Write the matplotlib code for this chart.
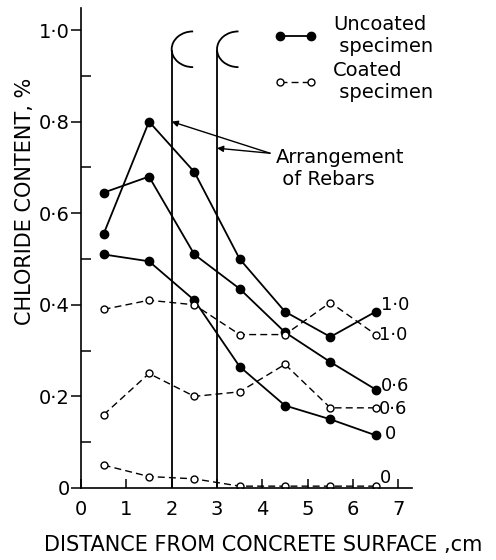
import matplotlib
matplotlib.use('Agg')
import matplotlib.pyplot as plt
from matplotlib.patches import Arc
from matplotlib.ticker import MultipleLocator

plt.rcParams['font.family'] = 'DejaVu Sans'

# distance from concrete surface, cm
depth = [0.5, 1.5, 2.5, 3.5, 4.5, 5.5, 6.5]

# chloride content, % -- uncoated specimens (w/c labels 1.0, 0.6, 0)
uncoated_10 = [0.555, 0.80, 0.69, 0.50, 0.385, 0.33, 0.385]
uncoated_06 = [0.645, 0.68, 0.51, 0.435, 0.34, 0.275, 0.215]
uncoated_00 = [0.51, 0.495, 0.41, 0.265, 0.18, 0.15, 0.115]

# coated specimens
coated_10 = [0.39, 0.41, 0.40, 0.335, 0.335, 0.405, 0.335]
coated_06 = [0.16, 0.25, 0.20, 0.21, 0.27, 0.175, 0.175]
coated_00 = [0.05, 0.025, 0.02, 0.004, 0.004, 0.004, 0.004]

end_labels = ['1·0', '0·6', '0']
rebar_x = [2, 3]

yticks = [0, 0.2, 0.4, 0.6, 0.8, 1.0]
ytick_labels = ['0', '0·2', '0·4', '0·6', '0·8', '1·0']
xticks = [0, 1, 2, 3, 4, 5, 6, 7]

fig = plt.figure(figsize=(4.96, 5.6), dpi=100)
ax = fig.add_axes([0.1633, 0.1286, 0.6673, 0.857])

solid = dict(color='k', lw=1.3, marker='o', ms=6, mfc='k', mec='k')
dashed = dict(color='k', lw=1.0, ls=(0, (5, 3)), marker='o', ms=5,
              mfc='white', mec='k', mew=1.0)

l1, = ax.plot(depth, uncoated_10, **solid)
ax.plot(depth, uncoated_06, **solid)
ax.plot(depth, uncoated_00, **solid)
l2, = ax.plot(depth, coated_10, **dashed)
ax.plot(depth, coated_06, **dashed)
ax.plot(depth, coated_00, **dashed)

# labels at line ends
fs_end = 13
ax.text(6.62, 0.40, end_labels[0], fontsize=fs_end, va='center', ha='left')
ax.text(6.58, 0.335, end_labels[0], fontsize=fs_end, va='center', ha='left')
ax.text(6.62, 0.222, end_labels[1], fontsize=fs_end, va='center', ha='left')
ax.text(6.58, 0.172, end_labels[1], fontsize=fs_end, va='center', ha='left')
ax.text(6.7, 0.117, end_labels[2], fontsize=fs_end, va='center', ha='left')
ax.text(6.6, 0.022, end_labels[2], fontsize=fs_end, va='center', ha='left')

# rebars
for rx in rebar_x:
    ax.plot([rx, rx], [0, 0.955], color='k', lw=1.3)
    ax.add_patch(Arc((rx + 0.47, 0.958), 0.94, 0.078, theta1=85, theta2=275,
                     color='k', lw=1.3))

# arrows to rebars
start = (4.17, 0.731)
ax.annotate('', xy=(rebar_x[0], 0.80), xytext=start,
            arrowprops=dict(arrowstyle='-|>', color='k', lw=1.0,
                            mutation_scale=9, shrinkA=0, shrinkB=0))
ax.annotate('', xy=(rebar_x[1], 0.742), xytext=start,
            arrowprops=dict(arrowstyle='-|>', color='k', lw=1.0,
                            mutation_scale=9, shrinkA=0, shrinkB=0))
ax.text(4.3, 0.698, 'Arrangement\n of Rebars', fontsize=14, va='center',
        ha='left', linespacing=1.2)

# legend
leg = ax.legend([l1, l2], ['Uncoated\n specimen', 'Coated\n specimen'],
                loc='upper left', bbox_to_anchor=(0.585, 0.985), frameon=False,
                fontsize=14, numpoints=2, handlelength=2.15, handletextpad=0.85,
                labelspacing=0.25, borderpad=0, borderaxespad=0)

# axes
ax.set_xlim(0, 7.3)
ax.set_ylim(0, 1.048)
ax.spines['top'].set_visible(False)
ax.spines['right'].set_visible(False)
ax.spines['left'].set_linewidth(1.2)
ax.spines['bottom'].set_linewidth(1.2)

ax.set_xticks(xticks)
ax.set_xticklabels([str(v) for v in xticks])
ax.set_yticks(yticks)
ax.set_yticklabels(ytick_labels)
ax.yaxis.set_minor_locator(MultipleLocator(0.1))
ax.tick_params(axis='x', direction='in', length=6.5, width=1.1, pad=9,
               labelsize=14)
ax.tick_params(axis='y', which='major', direction='out', length=7, width=1.1,
               pad=1, labelsize=14)
ax.tick_params(axis='y', which='minor', direction='in', length=7, width=1.1)

fig.text(0.53, 1 - 545 / 560, 'DISTANCE FROM CONCRETE SURFACE ,cm',
         fontsize=15, ha='center', va='center')
fig.text(25 / 496, 1 - 201 / 560, 'CHLORIDE CONTENT, %', fontsize=15,
         ha='center', va='center', rotation=90)

fig.savefig('out.png', dpi=100)
